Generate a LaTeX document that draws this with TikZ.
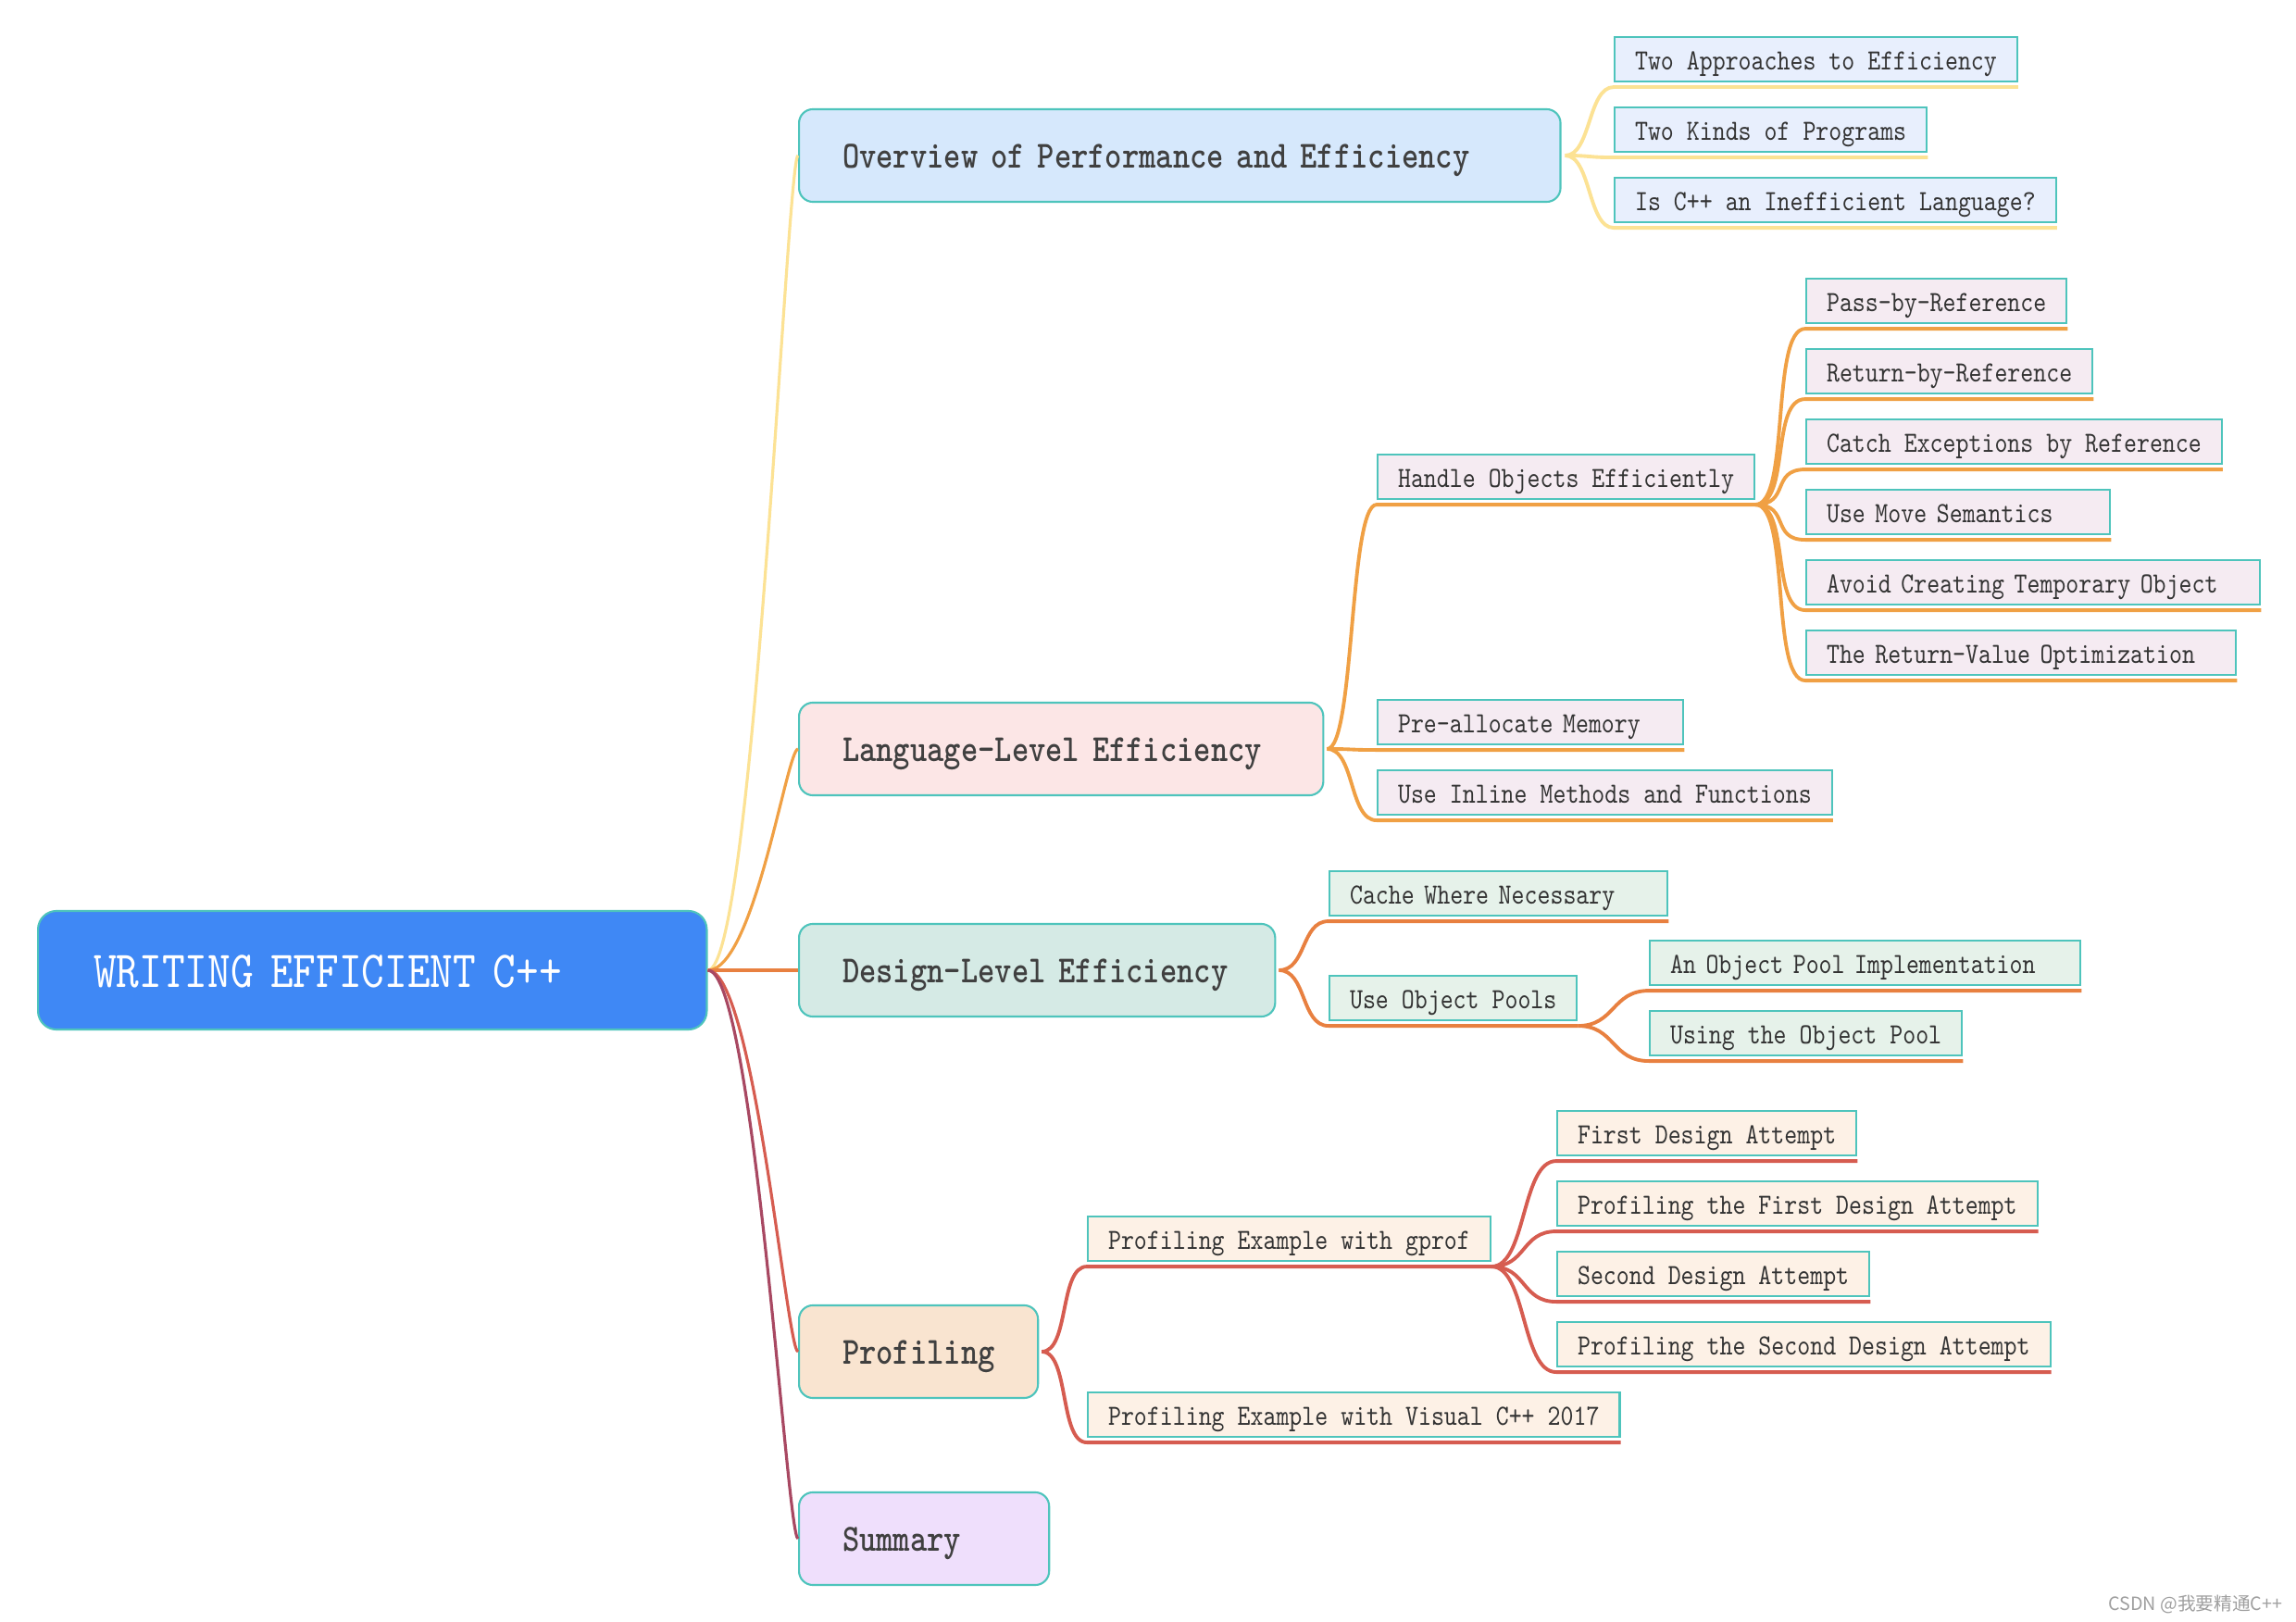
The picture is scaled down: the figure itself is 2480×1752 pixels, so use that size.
\documentclass[tikz,border=0pt]{standalone}
\usepackage{fontspec}
\newfontfamily\mapfont{lmmono10-regular}[Extension=.otf,BoldFont=lmmonolt10-bold,FakeStretch=0.84]
\newfontfamily\cjkfont{Noto Sans CJK SC}
\usepackage{tikz}
\usetikzlibrary{positioning}
\usepackage{xcolor}
\definecolor{rootblue}{RGB}{63,136,245}
\definecolor{edgeteal}{RGB}{78,196,188}
\definecolor{inktext}{RGB}{51,51,51}
\definecolor{headtext}{RGB}{64,64,64}
\definecolor{ovfill}{RGB}{214,232,252}
\definecolor{ovleaf}{RGB}{232,239,253}
\definecolor{ovline}{RGB}{252,226,148}
\definecolor{langfill}{RGB}{252,230,230}
\definecolor{langleaf}{RGB}{245,235,242}
\definecolor{langline}{RGB}{240,160,68}
\definecolor{desfill}{RGB}{213,234,229}
\definecolor{desleaf}{RGB}{230,242,234}
\definecolor{desline}{RGB}{232,128,64}
\definecolor{proffill}{RGB}{249,228,208}
\definecolor{profleaf}{RGB}{253,241,230}
\definecolor{profline}{RGB}{214,92,80}
\definecolor{sumfill}{RGB}{239,223,252}
\definecolor{sumline}{RGB}{168,72,98}

\tikzset{
  leafbox/.style={draw=edgeteal, line width=0.6pt, anchor=west, minimum height=0.48cm,
    inner xsep=0.22cm, inner ysep=0pt, text=inktext, font=\mapfont\fontsize{9}{10}\selectfont,
    text height=6.3pt, text depth=0pt},
  boxw/.style={text width=#1, align=left},
  headbox/.style={draw=edgeteal, line width=0.6pt, rounded corners=0.15cm, anchor=west,
    minimum height=1cm, inner xsep=0.47cm, inner ysep=0pt, align=left, text=headtext,
    font=\mapfont\bfseries\fontsize{11.8}{13}\selectfont, text height=7.4pt, text depth=0pt},
  rootbox/.style={draw=edgeteal, line width=0.6pt, fill=rootblue, rounded corners=0.2cm, anchor=west,
    minimum height=1.28cm, inner xsep=0.6cm, inner ysep=0pt, align=left, text=white,
    font=\mapfont\fontsize{15.9}{17}\selectfont, text height=10.8pt, text depth=0pt},
  rootlink/.style={line width=0.9pt},
  branch/.style={line width=1.1pt},
}

\begin{document}
\begin{tikzpicture}[x=0.01cm,y=-0.01cm]
    \useasboundingbox[fill=white] (0,0) rectangle (2480,1752);

    % root and main topics
    \node[rootbox, text width=6.02cm] (root) at (40,1048) {WRITING EFFICIENT C++};
    \node[headbox, fill=ovfill, text width=7.28cm] (overview) at (862,168) {Overview of Performance and Efficiency};
    \node[headbox, fill=langfill, text width=4.72cm] (language) at (862,809) {Language-Level Efficiency};
    \node[headbox, fill=desfill, text width=4.2cm] (design) at (862,1048) {Design-Level Efficiency};
    \node[headbox, fill=proffill, text width=1.64cm] (profiling) at (862,1460) {Profiling};
    \node[headbox, fill=sumfill, text width=1.76cm] (summary) at (862,1662) {Summary};

    % overview
    \node[leafbox, fill=ovleaf] (twoappr) at (1743,64) {Two Approaches to Efficiency};
    \node[leafbox, fill=ovleaf] (twokinds) at (1743,140) {Two Kinds of Programs};
    \node[leafbox, fill=ovleaf] (inefficient) at (1743,216) {Is C++ an Inefficient Language?};

    % language level
    \node[leafbox, fill=langleaf] (handle) at (1487,515) {Handle Objects Efficiently};
    \node[leafbox, fill=langleaf, boxw=2.86cm] (prealloc) at (1487,780) {Pre-allocate Memory};
    \node[leafbox, fill=langleaf] (inline) at (1487,856) {Use Inline Methods and Functions};
    \node[leafbox, fill=langleaf] (passref) at (1950,325) {Pass-by-Reference};
    \node[leafbox, fill=langleaf] (retref) at (1950,401) {Return-by-Reference};
    \node[leafbox, fill=langleaf] (catchref) at (1950,477) {Catch Exceptions by Reference};
    \node[leafbox, fill=langleaf, boxw=2.84cm] (movesem) at (1950,553) {Use Move Semantics};
    \node[leafbox, fill=langleaf, boxw=4.46cm] (avoidtmp) at (1950,629) {Avoid Creating Temporary Object};
    \node[leafbox, fill=langleaf, boxw=4.2cm] (rvo) at (1950,705) {The Return-Value Optimization};

    % design level
    \node[leafbox, fill=desleaf, boxw=3.21cm] (cache) at (1435,965) {Cache Where Necessary};
    \node[leafbox, fill=desleaf] (pools) at (1435,1078) {Use Object Pools};
    \node[leafbox, fill=desleaf, boxw=4.21cm] (poolimpl) at (1781,1040) {An Object Pool Implementation};
    \node[leafbox, fill=desleaf] (poolusing) at (1781,1116) {Using the Object Pool};

    % profiling
    \node[leafbox, fill=profleaf] (gprof) at (1174,1338) {Profiling Example with gprof};
    \node[leafbox, fill=profleaf] (visualcpp) at (1174,1528) {Profiling Example with Visual C++ 2017};
    \node[leafbox, fill=profleaf] (firstdes) at (1681,1224) {First Design Attempt};
    \node[leafbox, fill=profleaf] (proffirst) at (1681,1300) {Profiling the First Design Attempt};
    \node[leafbox, fill=profleaf] (seconddes) at (1681,1376) {Second Design Attempt};
    \node[leafbox, fill=profleaf] (profsecond) at (1681,1452) {Profiling the Second Design Attempt};

    % root links
    \draw[rootlink, ovline] (root.east) .. controls +(50,0) and +(-12,0) .. (overview.west);
    \draw[rootlink, langline] (root.east) .. controls +(50,0) and +(-12,0) .. (language.west);
    \draw[rootlink, desline] (root.east) -- (design.west);
    \draw[rootlink, profline] (root.east) .. controls +(50,0) and +(-12,0) .. (profiling.west);
    \draw[rootlink, sumline] (root.east) .. controls +(50,0) and +(-12,0) .. (summary.west);

    % branches with underlines
    \foreach \c in {twoappr,twokinds,inefficient}
        \draw[branch, ovline] ([xshift=0.04cm]overview.east) .. controls +(28,0) and +(-28,0) .. ([yshift=-0.05cm]\c.south west) -- ([yshift=-0.05cm]\c.south east);
    \foreach \c in {handle,prealloc,inline}
        \draw[branch, langline] ([xshift=0.03cm]language.east) .. controls +(30,0) and +(-30,0) .. ([yshift=-0.05cm]\c.south west) -- ([yshift=-0.05cm]\c.south east);
    \foreach \c in {passref,retref,catchref,movesem,avoidtmp,rvo}
        \draw[branch, langline] ([yshift=-0.05cm]handle.south east) .. controls +(38,0) and +(-38,0) .. ([yshift=-0.05cm]\c.south west) -- ([yshift=-0.05cm]\c.south east);
    \foreach \c in {cache,pools}
        \draw[branch, desline] ([xshift=0.03cm]design.east) .. controls +(30,0) and +(-30,0) .. ([yshift=-0.05cm]\c.south west) -- ([yshift=-0.05cm]\c.south east);
    \foreach \c in {poolimpl,poolusing}
        \draw[branch, desline] ([yshift=-0.05cm]pools.south east) .. controls +(40,0) and +(-40,0) .. ([yshift=-0.05cm]\c.south west) -- ([yshift=-0.05cm]\c.south east);
    \foreach \c in {gprof,visualcpp}
        \draw[branch, profline] ([xshift=0.03cm]profiling.east) .. controls +(30,0) and +(-30,0) .. ([yshift=-0.05cm]\c.south west) -- ([yshift=-0.05cm]\c.south east);
    \foreach \c in {firstdes,proffirst,seconddes,profsecond}
        \draw[branch, profline] ([yshift=-0.05cm]gprof.south east) .. controls +(38,0) and +(-38,0) .. ([yshift=-0.05cm]\c.south west) -- ([yshift=-0.05cm]\c.south east);

    \node[anchor=base east, inner sep=0pt, text=gray!75, font=\cjkfont\fontsize{5.6}{6}\selectfont] (watermark) at (2466,1739) {CSDN @我要精通C++};
\end{tikzpicture}
\end{document}
